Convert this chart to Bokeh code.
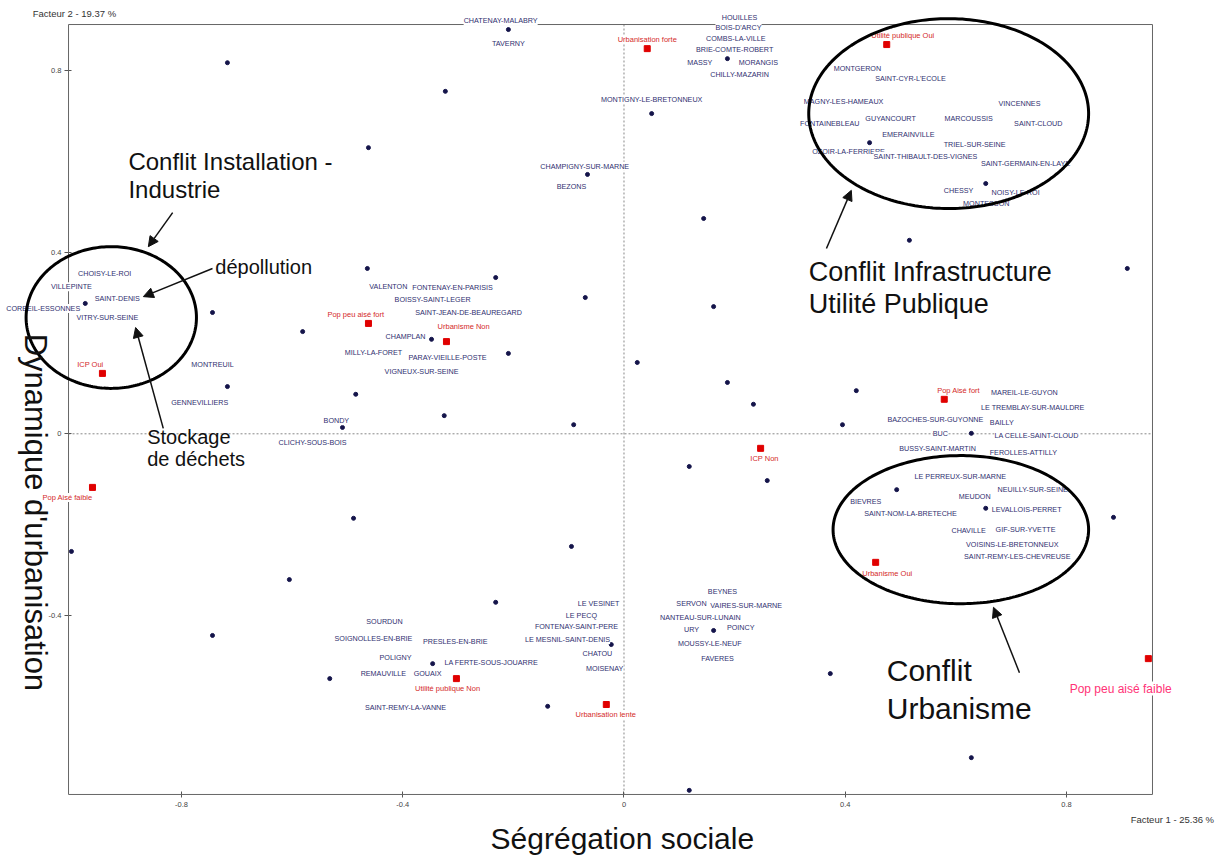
import numpy as np
from bokeh.plotting import figure
from bokeh.models import (ColumnDataSource, LabelSet, Label, Arrow, NormalHead,
                          FixedTicker, Range1d, PolyAnnotation, BoxAnnotation,
                          CustomJSTickFormatter)
from bokeh.core.properties import value
from bokeh.embed import file_html
from bokeh.resources import INLINE

# ---------------- data (factor coordinates) ----------------
x_ticks = [-0.8, -0.4, 0, 0.4, 0.8]
y_ticks = [-0.4, 0, 0.4, 0.8]

# unlabelled individuals
dot_x = [-0.717, -0.462, -0.209, -0.323, 0.187, 0.050, -0.066, 0.444, 0.654, -0.464,
         -0.974, -0.744, -0.581, -0.717, -0.485, -0.509, 0.144, -0.232, -0.070, 0.162,
         -0.348, -0.209, 0.024, 0.187, 0.234, -0.325, -0.091, 0.516, 0.910, 0.420,
         0.395, -0.999, -0.489, -0.605, -0.744, 0.118, 0.259, -0.095, -0.232, 0.162,
         -0.023, 0.628, 0.493, 0.654, 0.885, -0.532, -0.346, -0.138, 0.118, 0.373, 0.628]
dot_y = [0.817, 0.630, 0.890, 0.754, 0.826, 0.705, 0.571, 0.641, 0.551, 0.364,
         0.287, 0.267, 0.225, 0.104, 0.087, 0.014, 0.474, 0.344, 0.300, 0.280,
         0.208, 0.177, 0.157, 0.113, 0.065, 0.040, 0.020, 0.426, 0.364, 0.095,
         0.020, -0.259, -0.186, -0.321, -0.444, -0.072, -0.103, -0.248, -0.371, -0.433,
         -0.464, 0.001, -0.123, -0.164, -0.184, -0.539, -0.506, -0.600, -0.785, -0.528, -0.713]

city_names = [
    "CHATENAY-MALABRY", "TAVERNY", "HOUILLES", "BOIS-D'ARCY", "COMBS-LA-VILLE",
    "BRIE-COMTE-ROBERT", "MASSY", "MORANGIS", "CHILLY-MAZARIN", "MONTIGNY-LE-BRETONNEUX",
    "CHAMPIGNY-SUR-MARNE", "BEZONS", "MONTGERON", "SAINT-CYR-L'ECOLE", "MAGNY-LES-HAMEAUX",
    "FONTAINEBLEAU", "GUYANCOURT", "EMERAINVILLE", "MARCOUSSIS", "VINCENNES",
    "SAINT-CLOUD", "TRIEL-SUR-SEINE", "OZOIR-LA-FERRIERE", "SAINT-THIBAULT-DES-VIGNES",
    "SAINT-GERMAIN-EN-LAYE", "CHESSY", "NOISY-LE-ROI", "MONTESSON",
    "CHOISY-LE-ROI", "VILLEPINTE", "SAINT-DENIS", "CORBEIL-ESSONNES", "VITRY-SUR-SEINE",
    "MONTREUIL", "GENNEVILLIERS", "BONDY", "CLICHY-SOUS-BOIS",
    "VALENTON", "FONTENAY-EN-PARISIS", "BOISSY-SAINT-LEGER", "SAINT-JEAN-DE-BEAUREGARD",
    "CHAMPLAN", "MILLY-LA-FORET", "PARAY-VIEILLE-POSTE", "VIGNEUX-SUR-SEINE",
    "BEYNES", "SERVON", "VAIRES-SUR-MARNE", "NANTEAU-SUR-LUNAIN", "URY", "POINCY",
    "MOUSSY-LE-NEUF", "FAVERES", "LE VESINET", "LE PECQ", "FONTENAY-SAINT-PERE",
    "LE MESNIL-SAINT-DENIS", "CHATOU", "MOISENAY", "SOURDUN", "SOIGNOLLES-EN-BRIE",
    "PRESLES-EN-BRIE", "POLIGNY", "REMAUVILLE", "GOUAIX", "LA FERTE-SOUS-JOUARRE",
    "SAINT-REMY-LA-VANNE",
    "MAREIL-LE-GUYON", "LE TREMBLAY-SUR-MAULDRE", "BAZOCHES-SUR-GUYONNE", "BAILLY",
    "BUC", "LA CELLE-SAINT-CLOUD", "BUSSY-SAINT-MARTIN", "FEROLLES-ATTILLY",
    "LE PERREUX-SUR-MARNE", "NEUILLY-SUR-SEINE", "BIEVRES", "MEUDON", "LEVALLOIS-PERRET",
    "SAINT-NOM-LA-BRETECHE", "CHAVILLE", "GIF-SUR-YVETTE", "VOISINS-LE-BRETONNEUX",
    "SAINT-REMY-LES-CHEVREUSE"]
city_x = [
    -0.223, -0.209, 0.209, 0.207, 0.202,
    0.200, 0.137, 0.243, 0.209, 0.050,
    -0.071, -0.095, 0.422, 0.518, 0.397,
    0.372, 0.482, 0.514, 0.623, 0.715,
    0.749, 0.634, 0.406, 0.545,
    0.726, 0.605, 0.708, 0.655,
    -0.939, -0.999, -0.916, -1.050, -0.934,
    -0.744, -0.767, -0.520, -0.563,
    -0.426, -0.310, -0.346, -0.281,
    -0.395, -0.453, -0.319, -0.366,
    0.178, 0.122, 0.221, 0.138, 0.122, 0.211,
    0.155, 0.169, -0.046, -0.077, -0.086,
    -0.102, -0.048, -0.035, -0.433, -0.453,
    -0.305, -0.413, -0.435, -0.355, -0.240,
    -0.395,
    0.724, 0.739, 0.563, 0.683,
    0.572, 0.746, 0.567, 0.722,
    0.608, 0.739, 0.437, 0.634, 0.728,
    0.518, 0.623, 0.726, 0.702,
    0.711]
city_y = [
    0.910, 0.859, 0.917, 0.895, 0.870,
    0.846, 0.817, 0.817, 0.791, 0.736,
    0.589, 0.544, 0.804, 0.782, 0.732,
    0.683, 0.694, 0.659, 0.694, 0.727,
    0.683, 0.637, 0.622, 0.611,
    0.595, 0.536, 0.531, 0.507,
    0.353, 0.324, 0.298, 0.276, 0.256,
    0.153, 0.069, 0.029, -0.019,
    0.324, 0.322, 0.296, 0.267,
    0.214, 0.179, 0.168, 0.137,
    -0.347, -0.374, -0.378, -0.404, -0.431, -0.426,
    -0.462, -0.495, -0.374, -0.400, -0.424,
    -0.453, -0.484, -0.517, -0.413, -0.451,
    -0.457, -0.493, -0.528, -0.528, -0.504,
    -0.603,
    0.091, 0.058, 0.031, 0.025,
    0.001, -0.004, -0.032, -0.041,
    -0.094, -0.123, -0.149, -0.138, -0.167,
    -0.175, -0.213, -0.211, -0.244,
    -0.270]

# supplementary categories (modalities)
cat_names = ["Urbanisation forte", "Utilité publique Oui", "Pop peu aisé fort", "Urbanisme Non",
             "ICP Oui", "Pop Aisé fort", "ICP Non", "Pop Aisé faible", "Urbanisme Oui",
             "Utilité publique Non", "Urbanisation lente", "Pop peu aisé faible"]
cat_x = [0.042, 0.475, -0.462, -0.321, -0.943, 0.579, 0.247, -0.961, 0.455, -0.303, -0.032, 0.948]
cat_y = [0.848, 0.857, 0.243, 0.203, 0.133, 0.076, -0.032, -0.118, -0.283, -0.539, -0.596, -0.495]
cat_label_x = [0.042, 0.504, -0.485, -0.290, -0.965, 0.605, 0.254, -1.006, 0.476, -0.319, -0.033, 0.898]
cat_label_y = [0.868, 0.877, 0.263, 0.236, 0.153, 0.095, -0.054, -0.140, -0.308, -0.561, -0.618, -0.561]

SANS = "'Liberation Sans', Arial, sans-serif"

# visible plot box (factor limits) and whole-canvas view
box_x = (-1.0043, 0.9555)
box_y = (-0.7941, 0.9011)

# ---------------- figure ----------------
p = figure(width=1228, height=855, output_backend="svg", toolbar_location=None, title=None,
           x_range=Range1d(-1.12728, 1.09293), y_range=Range1d(-0.92844, 0.95398),
           min_border=0, min_border_left=0, min_border_right=0, min_border_top=0,
           min_border_bottom=0)
p.grid.visible = False
p.outline_line_color = None
p.background_fill_color = "white"
p.border_fill_color = "white"

fmt = CustomJSTickFormatter(code="return tick.toString()")
for ax, ticks in ((p.xaxis, x_ticks), (p.yaxis, y_ticks)):
    ax.ticker = FixedTicker(ticks=ticks)
    ax.formatter = fmt
    ax.minor_tick_line_color = None
    ax.major_tick_in = 3
    ax.major_tick_out = 3
    ax.axis_line_color = None
    ax.major_tick_line_color = "#555555"
    ax.major_label_text_font = SANS
    ax.major_label_text_font_size = "7.5px"
    ax.major_label_text_color = "#444444"
p.xaxis.fixed_location = box_y[0]
p.yaxis.fixed_location = box_x[0]
p.yaxis.major_tick_out = 4
p.xaxis.major_label_standoff = 5
p.yaxis.major_label_standoff = 3

# plot box
p.add_layout(BoxAnnotation(left=box_x[0], right=box_x[1], bottom=box_y[0], top=box_y[1],
                           fill_color=None, fill_alpha=0, line_color="#666666",
                           line_alpha=1, line_width=1))
# dotted origin lines
p.segment(x0=[0, box_x[0]], y0=[box_y[0], 0], x1=[0, box_x[1]], y1=[box_y[1], 0],
          line_color="#888888", line_dash="2 2", line_width=1)

p.scatter(dot_x, dot_y, size=4, color="#14144a")
p.scatter(cat_x, cat_y, marker="square", size=6, color="#e00000")

cities = ColumnDataSource(dict(x=city_x, y=city_y, name=city_names))
p.add_layout(LabelSet(x="x", y="y", text="name", source=cities, text_align="center",
                      text_baseline="middle", text_font=value(SANS),
                      text_font_size=value("7.2px"), text_color="#2f2f6f",
                      background_fill_color="white"))

cat_size = ["12px" if n == "Pop peu aisé faible" else "7.5px" for n in cat_names]
cat_col = ["#ff3377" if n == "Pop peu aisé faible" else "#d42a2a" for n in cat_names]
cats = ColumnDataSource(dict(x=cat_label_x, y=cat_label_y, name=cat_names,
                             fsize=cat_size, col=cat_col))
p.add_layout(LabelSet(x="x", y="y", text="name", source=cats, text_align="center",
                      text_baseline="middle", text_font=value(SANS), text_font_size="fsize",
                      text_color="col", background_fill_color="white"))

# ---------------- annotations ----------------
t = np.linspace(0, 2 * np.pi, 240)
for cx, cy, a, b in ((0.587, 0.705, 0.253, 0.209),
                     (-0.927, 0.256, 0.154, 0.156),
                     (0.609, -0.211, 0.231, 0.163)):
    p.add_layout(PolyAnnotation(xs=list(cx + a * np.cos(t)), ys=list(cy + b * np.sin(t)),
                                fill_color=None, fill_alpha=0, line_color="black",
                                line_alpha=1, line_width=3))

for xs, ys, xe, ye in ((-0.816, 0.487, -0.860, 0.412),
                       (-0.744, 0.364, -0.869, 0.302),
                       (-0.833, 0.012, -0.883, 0.234),
                       (0.366, 0.408, 0.411, 0.536),
                       (0.715, -0.526, 0.668, -0.382)):
    p.add_layout(Arrow(end=NormalHead(size=10, fill_color="#111111", line_color="#111111"),
                       x_start=xs, y_start=ys, x_end=xe, y_end=ye,
                       line_color="#111111", line_width=1.5))

def big(x, y, text, size, **kw):
    p.add_layout(Label(x=x, y=y, text=text, text_font=SANS, text_font_size=size,
                       text_color="#111111", text_align=kw.get("align", "left"),
                       text_baseline=kw.get("baseline", "alphabetic"),
                       angle=kw.get("angle", 0)))

big(-0.896, 0.600, "Conflit Installation -", "24px")
big(-0.896, 0.538, "Industrie", "24px")
big(-0.739, 0.367, "dépollution", "20px")
big(-0.862, -0.006, "Stockage", "20px")
big(-0.862, -0.056, "de déchets", "20px")
big(0.334, 0.357, "Conflit Infrastructure", "27px")
big(0.334, 0.285, "Utilité Publique", "27px")
big(0.475, -0.521, "Conflit", "30px")
big(0.475, -0.605, "Urbanisme", "30px")
big(-1.064, -0.173, "Dynamique d'urbanisation", "31px", align="center", baseline="middle",
    angle=-np.pi / 2)
big(-0.003, -0.890, "Ségrégation sociale", "30px", align="center")

p.add_layout(Label(x=-1.069, y=0.925, text="Facteur 2 - 19.37 %", text_font=SANS,
                   text_font_size="9.5px", text_color="#333333", text_baseline="middle"))
p.add_layout(Label(x=0.916, y=-0.849, text="Facteur 1 - 25.36 %", text_font=SANS,
                   text_font_size="9.5px", text_color="#333333", text_baseline="middle"))

open("out.html", "w").write(file_html(p, INLINE))
